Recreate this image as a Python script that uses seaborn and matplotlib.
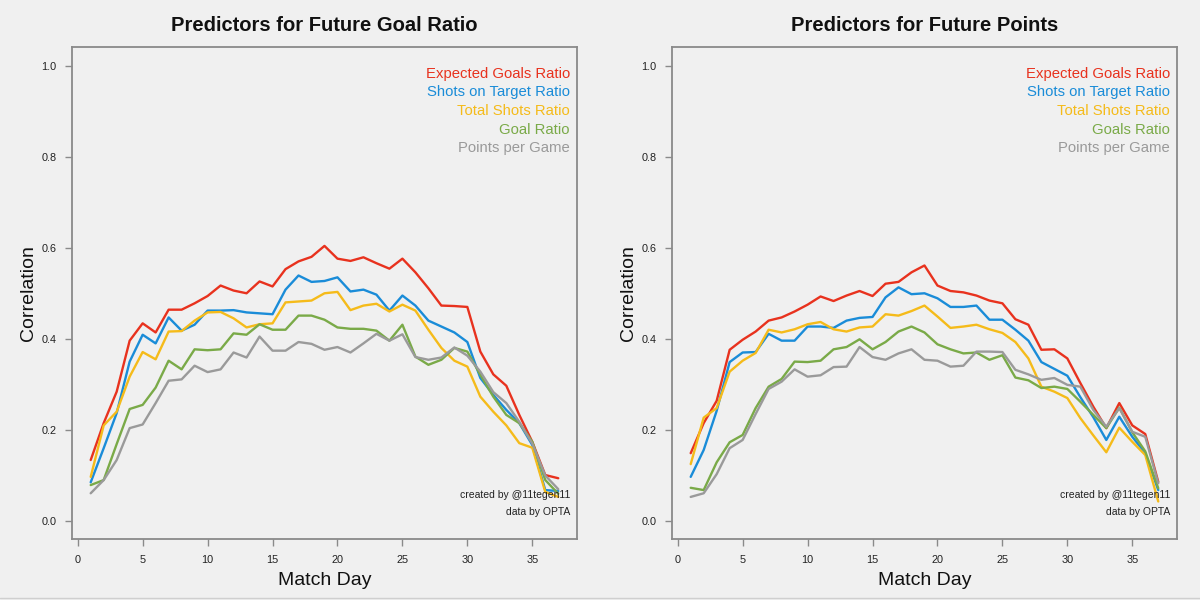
import numpy as np
import pandas as pd
import matplotlib
matplotlib.use("Agg")
import matplotlib.pyplot as plt
import seaborn as sns

match_day = list(range(1, 38))

series_left = ["Expected Goals Ratio", "Shots on Target Ratio", "Total Shots Ratio", "Goal Ratio", "Points per Game"]
series_right = ["Expected Goals Ratio", "Shots on Target Ratio", "Total Shots Ratio", "Goals Ratio", "Points per Game"]
colors = ["#e8321e", "#1a8cd8", "#f5bb1a", "#7aaa48", "#9a9a9a"]

gr_xg = [0.134, 0.215, 0.284, 0.396, 0.434, 0.414, 0.464, 0.464, 0.478, 0.494, 0.517, 0.506, 0.500, 0.526, 0.515, 0.553, 0.570, 0.580, 0.604, 0.576, 0.571, 0.579, 0.566, 0.554, 0.576, 0.546, 0.511, 0.473, 0.472, 0.470, 0.372, 0.322, 0.297, 0.233, 0.174, 0.101, 0.094]
gr_sot = [0.085, 0.160, 0.237, 0.350, 0.409, 0.390, 0.447, 0.418, 0.431, 0.462, 0.462, 0.463, 0.458, 0.456, 0.454, 0.508, 0.539, 0.525, 0.527, 0.535, 0.504, 0.508, 0.497, 0.462, 0.495, 0.473, 0.440, 0.427, 0.414, 0.393, 0.314, 0.277, 0.244, 0.215, 0.167, 0.068, 0.066]
gr_tsr = [0.097, 0.210, 0.240, 0.317, 0.371, 0.355, 0.416, 0.417, 0.440, 0.458, 0.459, 0.445, 0.425, 0.432, 0.434, 0.480, 0.482, 0.484, 0.500, 0.503, 0.463, 0.473, 0.477, 0.460, 0.475, 0.462, 0.420, 0.380, 0.352, 0.339, 0.273, 0.240, 0.210, 0.171, 0.161, 0.064, 0.053]
gr_gr = [0.079, 0.090, 0.169, 0.246, 0.255, 0.293, 0.352, 0.333, 0.377, 0.375, 0.377, 0.412, 0.409, 0.432, 0.420, 0.420, 0.451, 0.451, 0.442, 0.425, 0.422, 0.422, 0.418, 0.396, 0.431, 0.361, 0.343, 0.354, 0.380, 0.372, 0.321, 0.273, 0.233, 0.215, 0.174, 0.090, 0.060]
gr_ppg = [0.061, 0.090, 0.134, 0.204, 0.212, 0.259, 0.308, 0.311, 0.341, 0.327, 0.333, 0.370, 0.359, 0.405, 0.374, 0.374, 0.393, 0.389, 0.376, 0.382, 0.370, 0.390, 0.411, 0.396, 0.410, 0.360, 0.354, 0.359, 0.381, 0.363, 0.328, 0.283, 0.259, 0.218, 0.170, 0.100, 0.070]

pt_xg = [0.149, 0.215, 0.264, 0.376, 0.398, 0.416, 0.440, 0.447, 0.460, 0.475, 0.493, 0.483, 0.495, 0.505, 0.494, 0.521, 0.525, 0.546, 0.561, 0.517, 0.505, 0.502, 0.495, 0.484, 0.478, 0.443, 0.431, 0.376, 0.377, 0.357, 0.303, 0.251, 0.204, 0.259, 0.210, 0.191, 0.086]
pt_sot = [0.097, 0.156, 0.242, 0.349, 0.370, 0.371, 0.411, 0.396, 0.396, 0.427, 0.427, 0.424, 0.440, 0.446, 0.448, 0.491, 0.513, 0.498, 0.500, 0.489, 0.470, 0.470, 0.473, 0.442, 0.442, 0.420, 0.396, 0.349, 0.334, 0.319, 0.272, 0.228, 0.178, 0.229, 0.185, 0.149, 0.068]
pt_tsr = [0.125, 0.227, 0.248, 0.328, 0.352, 0.369, 0.420, 0.414, 0.421, 0.432, 0.437, 0.421, 0.416, 0.425, 0.427, 0.454, 0.451, 0.461, 0.473, 0.449, 0.424, 0.427, 0.431, 0.421, 0.413, 0.393, 0.357, 0.295, 0.284, 0.270, 0.226, 0.188, 0.151, 0.205, 0.174, 0.145, 0.043]
pt_gr = [0.073, 0.068, 0.129, 0.173, 0.189, 0.248, 0.295, 0.312, 0.350, 0.349, 0.352, 0.377, 0.382, 0.399, 0.377, 0.393, 0.416, 0.427, 0.414, 0.388, 0.377, 0.368, 0.370, 0.354, 0.364, 0.315, 0.309, 0.292, 0.295, 0.290, 0.262, 0.233, 0.204, 0.249, 0.195, 0.153, 0.072]
pt_ppg = [0.053, 0.061, 0.103, 0.160, 0.178, 0.235, 0.290, 0.306, 0.333, 0.317, 0.320, 0.338, 0.339, 0.382, 0.360, 0.354, 0.368, 0.377, 0.354, 0.352, 0.339, 0.341, 0.372, 0.372, 0.371, 0.332, 0.322, 0.310, 0.314, 0.299, 0.295, 0.244, 0.207, 0.248, 0.196, 0.185, 0.083]

titles = ["Predictors for Future Goal Ratio", "Predictors for Future Points"]
x_ticks = [0, 5, 10, 15, 20, 25, 30, 35]
y_ticks = [0.0, 0.2, 0.4, 0.6, 0.8, 1.0]
y_tick_labels = ["0.0", "0.2", "0.4", "0.6", "0.8", "1.0"]
credit_lines = ["created by @11tegen11", "data by OPTA"]

sns.set_theme(style="white")
plt.rcParams["font.family"] = ["Liberation Sans", "DejaVu Sans"]

BG = "#f0f0f0"
fig = plt.figure(figsize=(12, 6), dpi=100, facecolor=BG)


def long_df(names, cols):
    frames = []
    for n, v in zip(names, cols):
        frames.append(pd.DataFrame({"Match Day": match_day, "Correlation": v, "Series": n}))
    return pd.concat(frames, ignore_index=True)


panels = [
    (series_left, [gr_xg, gr_sot, gr_tsr, gr_gr, gr_ppg], 0.06),
    (series_right, [pt_xg, pt_sot, pt_tsr, pt_gr, pt_ppg], 0.56),
]

for i, (names, cols, left) in enumerate(panels):
    ax = fig.add_axes([left, 0.1012, 0.4208, 0.82])
    ax.set_facecolor(BG)
    df = long_df(names, cols)
    sns.lineplot(data=df, x="Match Day", y="Correlation", hue="Series",
                 hue_order=names, palette=colors, linewidth=1.7,
                 legend=False, ax=ax, estimator=None)
    ax.set_xlim(-0.44, 38.44)
    ax.set_ylim(-0.04, 1.04)
    ax.set_xticks(x_ticks)
    ax.set_xticklabels([str(t) for t in x_ticks])
    ax.set_yticks(y_ticks)
    ax.set_yticklabels(y_tick_labels)
    for s in ax.spines.values():
        s.set_visible(True)
        s.set_color("#8a8a8a")
        s.set_linewidth(1.3)
    ax.tick_params(axis="both", direction="out", length=5, width=1.0,
                   color="#8a8a8a", labelsize=7.8, labelcolor="#222222",
                   bottom=True, left=True, pad=6)
    ax.set_title(titles[i], fontsize=14.5, fontweight="bold", pad=12, color="#111111")
    ax.set_xlabel("Match Day", fontsize=14, color="#111111", labelpad=5)
    ax.set_ylabel("Correlation", fontsize=14, color="#111111", labelpad=3)
    ax.grid(False)

    leg_y = [0.982, 0.941, 0.900, 0.859, 0.819]
    for n, c, yy in zip(names, colors, leg_y):
        ax.text(37.9, yy, n, color=c, fontsize=10.7, ha="right", va="center")
    ax.text(37.9, 0.058, credit_lines[0], fontsize=7.5, ha="right", va="center", color="#222222")
    ax.text(37.9, 0.020, credit_lines[1], fontsize=7.5, ha="right", va="center", color="#222222")

fig.add_artist(plt.Line2D([0, 1], [0.004, 0.004], transform=fig.transFigure,
                          color="#cfcfcf", linewidth=1.0))

fig.savefig("out.png", dpi=100, facecolor=BG)
